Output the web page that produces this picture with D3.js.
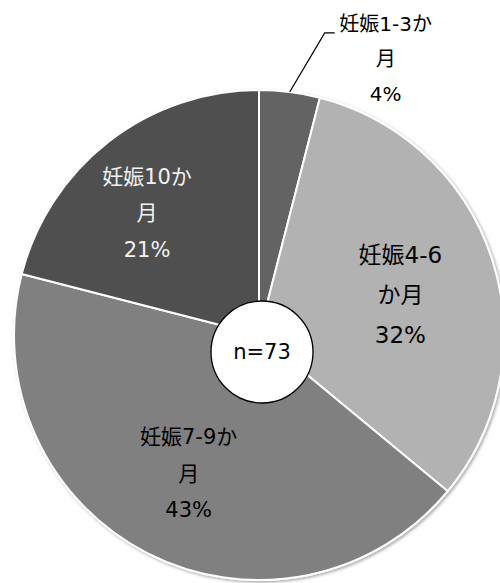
<!DOCTYPE html>
<html>
<head>
<meta charset="utf-8">
<script src="https://cdn.jsdelivr.net/npm/d3@7"></script>
<style>
  html, body { margin: 0; padding: 0; background: #fff; }
  text { font-family: "DejaVu Sans", "Noto Sans CJK JP", sans-serif; }
</style>
</head>
<body>
<div id="chart"></div>
<script>
const categories = ['妊娠1-3か月', '妊娠4-6か月', '妊娠7-9か月', '妊娠10か月'];
const percents = [4, 32, 43, 21];
// how the labels wrap in the original
const labelLines = [
  ['妊娠1-3か', '月', '4%'],
  ['妊娠4-6', 'か月', '32%'],
  ['妊娠7-9か', '月', '43%'],
  ['妊娠10か', '月', '21%'],
];
const totalN = 73;

const width = 500;
const height = 583;
const cx = 259;
const cy = 335;
const radius = 245;

const colors = d3.scaleOrdinal()
  .domain(categories)
  .range(['#636363', '#b2b2b2', '#808080', '#505050']);
const textColors = { '妊娠10か月': '#f2f2f2' };
const fontSizes = { '妊娠1-3か月': 20, '妊娠4-6か月': 23 };
// excel "best fit" label placement is not exactly on the centroid
const nudges = { '妊娠4-6か月': [-6, 8], '妊娠10か月': [-17, 0] };

const svg = d3.select('#chart')
  .append('svg')
  .attr('width', width)
  .attr('height', height);

const defs = svg.append('defs');
defs.append('filter')
  .attr('id', 'shadow')
  .attr('x', '-10%').attr('y', '-10%')
  .attr('width', '120%').attr('height', '120%')
  .append('feDropShadow')
  .attr('dx', 1.5).attr('dy', 1.5)
  .attr('stdDeviation', 1.5)
  .attr('flood-color', '#000')
  .attr('flood-opacity', 0.35);

const data = categories.map((c, i) => ({ category: c, value: percents[i], lines: labelLines[i] }));

const pie = d3.pie().sort(null).value((d) => d.value);
const arcs = pie(data);

const arc = d3.arc().innerRadius(0).outerRadius(radius);
const labelArc = d3.arc().innerRadius(155).outerRadius(155);
const edgeArc = d3.arc().innerRadius(radius).outerRadius(radius);

const g = svg.append('g').attr('transform', `translate(${cx},${cy})`);

g.append('g')
  .attr('filter', 'url(#shadow)')
  .selectAll('path')
  .data(arcs)
  .join('path')
  .attr('d', arc)
  .attr('fill', (d) => colors(d.data.category))
  .attr('stroke', '#fff')
  .attr('stroke-width', 2)
  .attr('stroke-linejoin', 'round');

// small slice gets an outside label with a leader line
const outside = (d) => d.value < 10;

arcs.forEach((d) => {
  const size = fontSizes[d.data.category] || 21;
  const lh = size * 1.74;
  let x, y;
  if (outside(d)) {
    const [ex, ey] = edgeArc.centroid(d);
    const elbow = [ex + 35, ey - 59];
    const end = [elbow[0] + 10, elbow[1]];
    g.append('polyline')
      .attr('points', [[ex, ey], elbow, end].map((p) => p.join(',')).join(' '))
      .attr('fill', 'none')
      .attr('stroke', '#000')
      .attr('stroke-width', 1.2);
    x = end[0] + 51;
    y = end[1] + 26;
  } else {
    [x, y] = labelArc.centroid(d);
    const [nx, ny] = nudges[d.data.category] || [0, 0];
    x += nx;
    y += ny;
  }
  const t = g.append('text')
    .attr('text-anchor', 'middle')
    .attr('font-size', size)
    .attr('fill', textColors[d.data.category] || '#000');
  d.data.lines.forEach((line, i) => {
    t.append('tspan')
      .attr('x', x)
      .attr('y', y + (i - 1) * lh + size * 0.36)
      .text(line);
  });
});

// sample size badge
const badge = svg.append('g').attr('transform', `translate(${cx + 3},${cy + 17})`);
badge.append('circle')
  .attr('r', 51)
  .attr('fill', '#fff')
  .attr('stroke', '#000')
  .attr('stroke-width', 1.3);
badge.append('text')
  .attr('text-anchor', 'middle')
  .attr('y', 7)
  .attr('font-size', 21)
  .attr('fill', '#000')
  .text(`n=${totalN}`);
</script>
</body>
</html>
